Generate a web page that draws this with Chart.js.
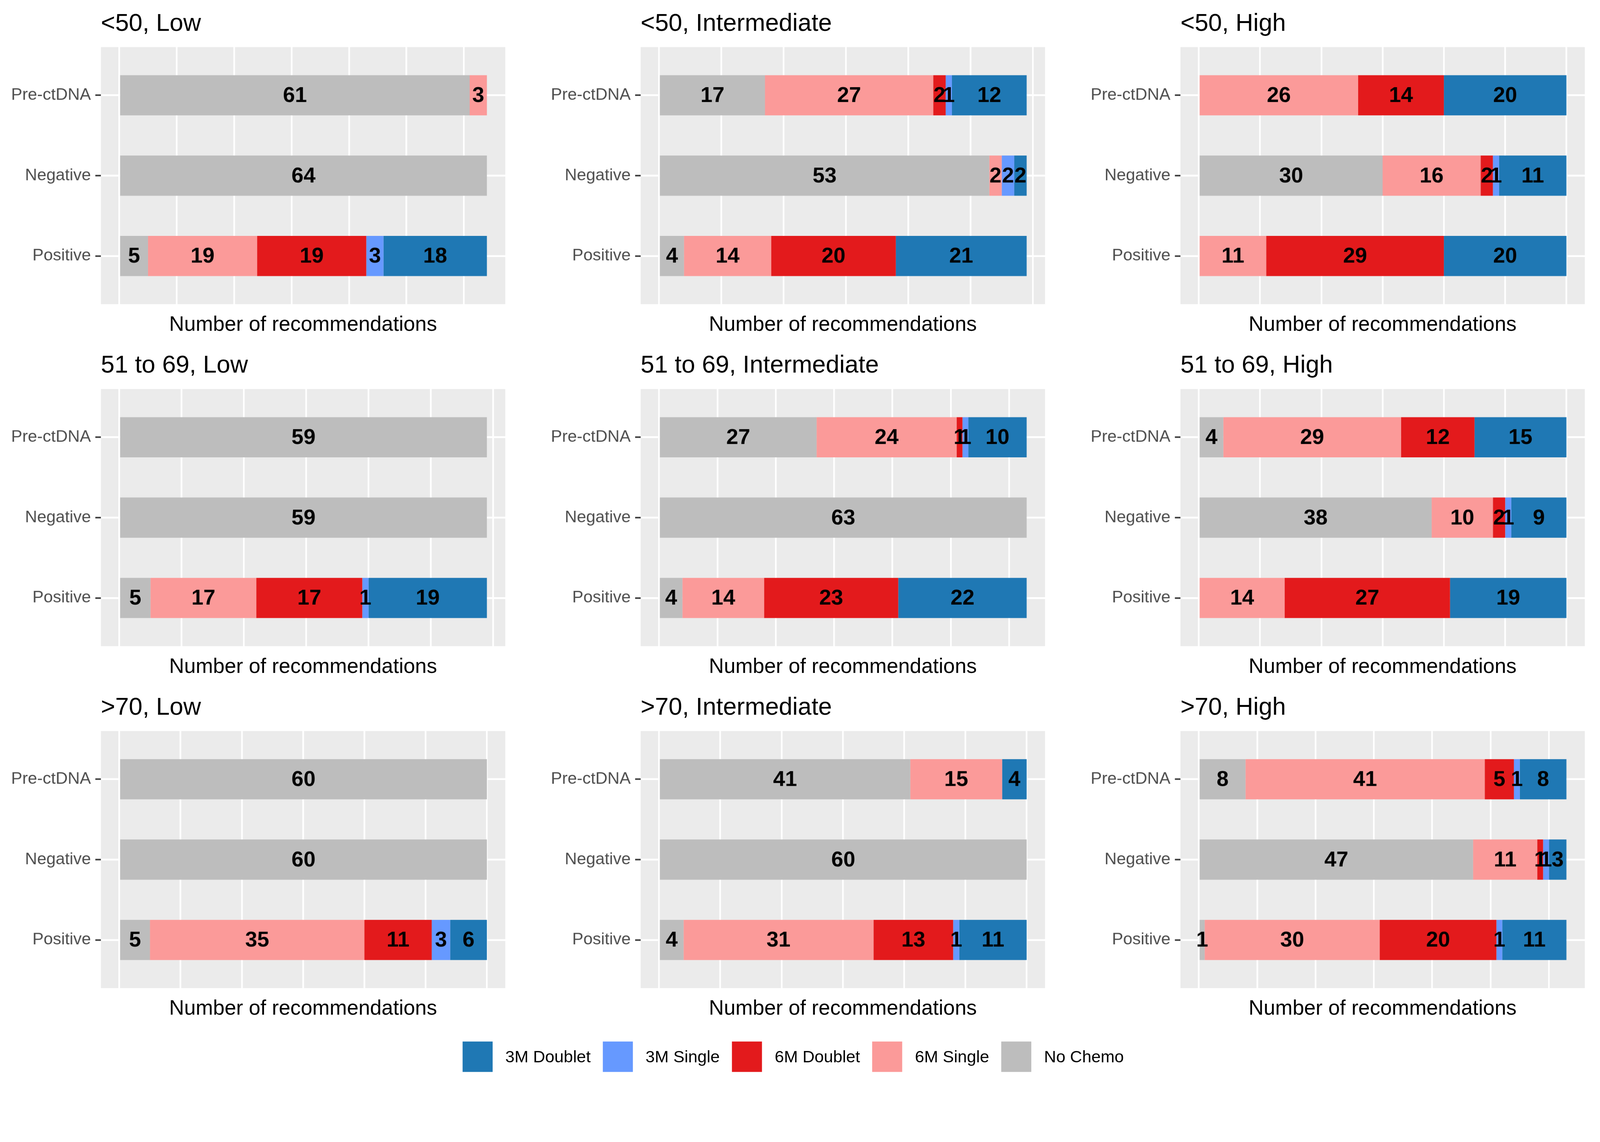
<!DOCTYPE html>
<html>
<head>
<meta charset="utf-8">
<title>Recommendations by age and risk</title>
<script src="https://cdn.jsdelivr.net/npm/chart.js@4.4.1/dist/chart.umd.min.js"></script>
<style>
    html, body {
        margin: 0;
        padding: 0;
        background: #ffffff;
        overflow: hidden;
    }
    #page {
        position: relative;
        width: 4313px;
        height: 2924px;
        font-family: "Liberation Sans", Arial, sans-serif;
        overflow: hidden;
        transform-origin: 0 0;
    }
    .panel-canvas {
        position: absolute;
    }
    .panel-title {
        position: absolute;
        font-size: 66px;
        line-height: 80px;
        color: #000000;
        white-space: nowrap;
    }
    .axis-title {
        position: absolute;
        width: 1090px;
        text-align: center;
        font-size: 56px;
        line-height: 70px;
        color: #000000;
        white-space: nowrap;
    }
    .legend {
        position: absolute;
        left: 1247px;
        top: 2808px;
        display: flex;
        align-items: center;
        height: 82px;
    }
    .legend-item {
        display: flex;
        align-items: center;
        margin-right: 33px;
    }
    .legend-key {
        width: 81px;
        height: 82px;
        margin-right: 34px;
    }
    .legend-label {
        font-size: 45px;
        color: #000000;
        white-space: nowrap;
    }
</style>
</head>
<body>
<div id="page"></div>
<script>
// Chart data (one entry per facet, each entry is [Pre-ctDNA, Negative, Positive])
const panelTitles = [
    '<50, Low', '<50, Intermediate', '<50, High',
    '51 to 69, Low', '51 to 69, Intermediate', '51 to 69, High',
    '>70, Low', '>70, Intermediate', '>70, High'
];
const rowLabels = ['Pre-ctDNA', 'Negative', 'Positive'];
const xAxisTitle = 'Number of recommendations';
const gridBreaks = [0, 10, 20, 30, 40, 50, 60];

const noChemo   = [[61, 64, 5], [17, 53, 4], [0, 30, 0], [59, 59, 5], [27, 63, 4], [4, 38, 0], [60, 60, 5], [41, 60, 4], [8, 47, 1]];
const single6M  = [[3, 0, 19], [27, 2, 14], [26, 16, 11], [0, 0, 17], [24, 0, 14], [29, 10, 14], [0, 0, 35], [15, 0, 31], [41, 11, 30]];
const doublet6M = [[0, 0, 19], [2, 0, 20], [14, 2, 29], [0, 0, 17], [1, 0, 23], [12, 2, 27], [0, 0, 11], [0, 0, 13], [5, 1, 20]];
const single3M  = [[0, 0, 3], [1, 2, 0], [0, 1, 0], [0, 0, 1], [1, 0, 0], [0, 1, 0], [0, 0, 3], [0, 0, 1], [1, 1, 1]];
const doublet3M = [[0, 0, 18], [12, 2, 21], [20, 11, 20], [0, 0, 19], [10, 0, 22], [15, 9, 19], [0, 0, 6], [4, 0, 11], [8, 3, 11]];

// Stack order from left to right
const seriesNames  = ['No Chemo', '6M Single', '6M Doublet', '3M Single', '3M Doublet'];
const seriesValues = [noChemo, single6M, doublet6M, single3M, doublet3M];
const seriesColors = ['#bdbdbd', '#fb9a99', '#e31a1c', '#6699ff', '#1f78b4'];
const legendOrder  = ['3M Doublet', '3M Single', '6M Doublet', '6M Single', 'No Chemo'];

document.addEventListener('DOMContentLoaded', function() {
    const page = document.getElementById('page');

    // Fit the 4313px wide layout into whatever viewport we get
    const fit = window.innerWidth / 4313;
    page.style.transform = 'scale(' + fit + ')';

    // Layout of the 3x3 facet grid
    const colStep = 1455;
    const rowStep = 922;
    const plotTop = 127;
    const axisWidth = 272;
    const plotWidth = 1090;
    const plotHeight = 693;
    const fontFamily = '"Liberation Sans", Arial, sans-serif';

    // Grey panel background
    const panelBackground = {
        id: 'panelBackground',
        beforeDraw: function(chart) {
            const area = chart.chartArea;
            const ctx = chart.ctx;
            ctx.save();
            ctx.fillStyle = '#ebebeb';
            ctx.fillRect(area.left, area.top, area.right - area.left, area.bottom - area.top);
            ctx.restore();
        }
    };

    // Counts written in the middle of each segment
    const segmentLabels = {
        id: 'segmentLabels',
        afterDatasetsDraw: function(chart) {
            const ctx = chart.ctx;
            ctx.save();
            ctx.font = 'bold 58px ' + fontFamily;
            ctx.fillStyle = '#000000';
            ctx.textAlign = 'center';
            ctx.textBaseline = 'middle';
            chart.data.datasets.forEach(function(ds, i) {
                const meta = chart.getDatasetMeta(i);
                meta.data.forEach(function(bar, j) {
                    const v = ds.data[j].x;
                    if (!v) {
                        return;
                    }
                    const c = bar.getCenterPoint();
                    ctx.fillText(String(v), c.x, c.y + 2);
                });
            });
            ctx.restore();
        }
    };

    function noPadding(scale) {
        scale.paddingTop = 0;
        scale.paddingBottom = 0;
        scale.paddingLeft = 0;
        scale.paddingRight = 0;
    }

    panelTitles.forEach(function(title, p) {
        const row = Math.floor(p / 3);
        const col = p % 3;
        const left = col * colStep;
        const top = row * rowStep;

        // Facet title
        const titleEl = document.createElement('div');
        titleEl.className = 'panel-title';
        titleEl.style.left = (left + axisWidth) + 'px';
        titleEl.style.top = (top + 20) + 'px';
        titleEl.textContent = title;
        page.appendChild(titleEl);

        // X axis title
        const xTitle = document.createElement('div');
        xTitle.className = 'axis-title';
        xTitle.style.left = (left + axisWidth) + 'px';
        xTitle.style.top = (top + plotTop + plotHeight + 18) + 'px';
        xTitle.textContent = xAxisTitle;
        page.appendChild(xTitle);

        const canvas = document.createElement('canvas');
        canvas.className = 'panel-canvas';
        canvas.width = axisWidth + plotWidth;
        canvas.height = plotHeight;
        canvas.style.left = left + 'px';
        canvas.style.top = (top + plotTop) + 'px';
        page.appendChild(canvas);

        const total = rowLabels.map(function(_, r) {
            return seriesValues.reduce(function(s, vals) { return s + vals[p][r]; }, 0);
        });
        const xMax = Math.max.apply(null, total);

        const datasets = seriesNames.map(function(name, i) {
            return {
                label: name,
                data: rowLabels.map(function(_, r) {
                    return { x: seriesValues[i][p][r], y: r + 1 };
                }),
                backgroundColor: seriesColors[i],
                borderWidth: 0,
                categoryPercentage: 1,
                barPercentage: 0.5
            };
        });

        new Chart(canvas, {
            type: 'bar',
            data: { datasets: datasets },
            options: {
                indexAxis: 'y',
                responsive: false,
                animation: false,
                layout: { padding: 0 },
                plugins: {
                    legend: { display: false },
                    tooltip: { enabled: false }
                },
                scales: {
                    x: {
                        type: 'linear',
                        position: 'bottom',
                        stacked: true,
                        offset: false,
                        min: -0.05 * xMax,
                        max: 1.05 * xMax,
                        afterBuildTicks: function(scale) {
                            scale.ticks = gridBreaks
                                .filter(function(v) { return v <= scale.max; })
                                .map(function(v) { return { value: v }; });
                        },
                        afterFit: function(scale) {
                            scale.height = 0;
                            noPadding(scale);
                        },
                        ticks: { display: false },
                        grid: {
                            offset: false,
                            color: '#ffffff',
                            lineWidth: 4.5,
                            drawTicks: false
                        },
                        border: { display: false }
                    },
                    y: {
                        type: 'linear',
                        position: 'left',
                        stacked: true,
                        reverse: true,
                        offset: false,
                        min: 0.4,
                        max: 3.6,
                        afterBuildTicks: function(scale) {
                            scale.ticks = rowLabels.map(function(_, r) { return { value: r + 1 }; });
                        },
                        afterFit: function(scale) {
                            scale.width = axisWidth;
                            noPadding(scale);
                        },
                        ticks: {
                            padding: 12,
                            color: '#4d4d4d',
                            font: { family: fontFamily, size: 45 },
                            callback: function(v) {
                                return rowLabels[v - 1];
                            }
                        },
                        grid: {
                            offset: false,
                            color: '#ffffff',
                            lineWidth: 5,
                            drawTicks: true,
                            tickLength: 15,
                            tickColor: '#333333',
                            tickWidth: 4
                        },
                        border: { display: false }
                    }
                }
            },
            plugins: [panelBackground, segmentLabels]
        });
    });

    // Legend
    const legend = document.createElement('div');
    legend.className = 'legend';
    legendOrder.forEach(function(name) {
        const item = document.createElement('div');
        item.className = 'legend-item';
        const key = document.createElement('div');
        key.className = 'legend-key';
        key.style.background = seriesColors[seriesNames.indexOf(name)];
        const label = document.createElement('span');
        label.className = 'legend-label';
        label.textContent = name;
        item.appendChild(key);
        item.appendChild(label);
        legend.appendChild(item);
    });
    page.appendChild(legend);
});
</script>
</body>
</html>
